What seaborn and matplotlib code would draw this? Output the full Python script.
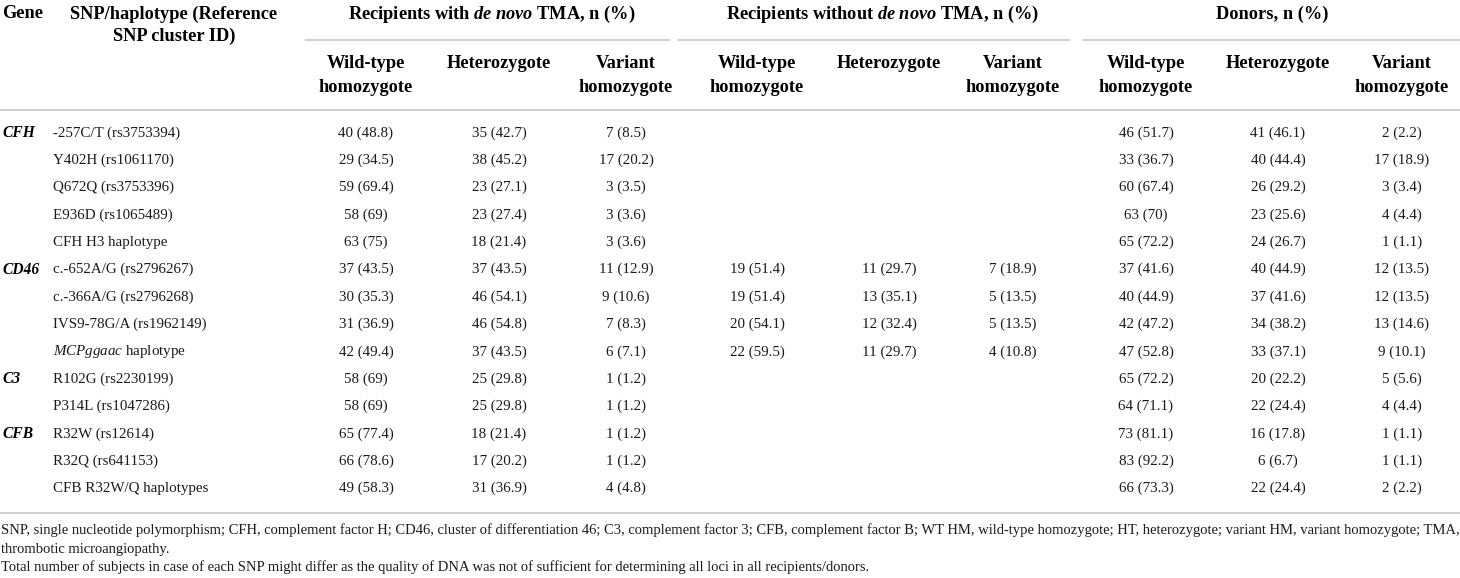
import matplotlib
matplotlib.use("Agg")
import matplotlib.pyplot as plt
import seaborn as sns

sns.set_theme(style="white")
plt.rcParams['font.family'] = ['Liberation Serif', 'DejaVu Serif']
plt.rcParams['mathtext.fontset'] = 'custom'
plt.rcParams['mathtext.rm'] = 'Liberation Serif'
plt.rcParams['mathtext.it'] = 'Liberation Serif:italic'
plt.rcParams['mathtext.bf'] = 'Liberation Serif:bold'
plt.rcParams['mathtext.bfit'] = 'Liberation Serif:bold:italic'

# ---------------- data ----------------
genes = ["CFH", "", "", "", "", "CD46", "", "", "", "C3", "", "CFB", "", ""]
snps = ["-257C/T (rs3753394)", "Y402H (rs1061170)", "Q672Q (rs3753396)",
        "E936D (rs1065489)", "CFH H3 haplotype", "c.-652A/G (rs2796267)",
        "c.-366A/G (rs2796268)", "IVS9-78G/A (rs1962149)",
        r"$\mathit{MCPggaac}$ haplotype", "R102G (rs2230199)",
        "P314L (rs1047286)", "R32W (rs12614)", "R32Q (rs641153)",
        "CFB R32W/Q haplotypes"]

with_wt = ["40 (48.8)", "29 (34.5)", "59 (69.4)", "58 (69)", "63 (75)",
           "37 (43.5)", "30 (35.3)", "31 (36.9)", "42 (49.4)", "58 (69)",
           "58 (69)", "65 (77.4)", "66 (78.6)", "49 (58.3)"]
with_ht = ["35 (42.7)", "38 (45.2)", "23 (27.1)", "23 (27.4)", "18 (21.4)",
           "37 (43.5)", "46 (54.1)", "46 (54.8)", "37 (43.5)", "25 (29.8)",
           "25 (29.8)", "18 (21.4)", "17 (20.2)", "31 (36.9)"]
with_var = ["7 (8.5)", "17 (20.2)", "3 (3.5)", "3 (3.6)", "3 (3.6)",
            "11 (12.9)", "9 (10.6)", "7 (8.3)", "6 (7.1)", "1 (1.2)",
            "1 (1.2)", "1 (1.2)", "1 (1.2)", "4 (4.8)"]

without_wt = ["", "", "", "", "", "19 (51.4)", "19 (51.4)", "20 (54.1)",
              "22 (59.5)", "", "", "", "", ""]
without_ht = ["", "", "", "", "", "11 (29.7)", "13 (35.1)", "12 (32.4)",
              "11 (29.7)", "", "", "", "", ""]
without_var = ["", "", "", "", "", "7 (18.9)", "5 (13.5)", "5 (13.5)",
               "4 (10.8)", "", "", "", "", ""]

donor_wt = ["46 (51.7)", "33 (36.7)", "60 (67.4)", "63 (70)", "65 (72.2)",
            "37 (41.6)", "40 (44.9)", "42 (47.2)", "47 (52.8)", "65 (72.2)",
            "64 (71.1)", "73 (81.1)", "83 (92.2)", "66 (73.3)"]
donor_ht = ["41 (46.1)", "40 (44.4)", "26 (29.2)", "23 (25.6)", "24 (26.7)",
            "40 (44.9)", "37 (41.6)", "34 (38.2)", "33 (37.1)", "20 (22.2)",
            "22 (24.4)", "16 (17.8)", "6 (6.7)", "22 (24.4)"]
donor_var = ["2 (2.2)", "17 (18.9)", "3 (3.4)", "4 (4.4)", "1 (1.1)",
             "12 (13.5)", "12 (13.5)", "13 (14.6)", "9 (10.1)", "5 (5.6)",
             "4 (4.4)", "1 (1.1)", "1 (1.1)", "2 (2.2)"]

group_titles = [r"Recipients with $\mathbfit{de\ novo}$ TMA, n (%)",
                r"Recipients without $\mathbfit{de\ novo}$ TMA, n (%)",
                "Donors, n (%)"]
sub_titles = [("Wild-type", "homozygote"), ("Heterozygote", ""), ("Variant", "homozygote")]

footnotes = [
    "SNP, single nucleotide polymorphism; CFH, complement factor H; CD46, cluster of differentiation 46; C3, complement factor 3; CFB, complement factor B; WT HM, wild-type homozygote; HT, heterozygote; variant HM, variant homozygote; TMA,",
    "thrombotic microangiopathy.",
    "Total number of subjects in case of each SNP might differ as the quality of DNA was not of sufficient for determining all loci in all recipients/donors.",
]

# ---------------- layout ----------------
W, H = 1460, 578
fig = plt.figure(figsize=(W / 100, H / 100), dpi=100)
ax = fig.add_axes([0, 0, 1, 1])
ax.set_xlim(0, W)
ax.set_ylim(H, 0)
ax.axis("off")

line_col = "#cccccc"
txt_col = "#1a1a1a"
hs = 13.2
ds = 10.8

# column centres
col_x = [366, 499, 626, 757, 889, 1013, 1146, 1278, 1402]
group_cx = [492, 882, 1272]
group_span = [(305, 670), (678, 1070), (1083, 1460)]

# header
ax.text(2, 14, "Gene", ha="left", va="center", fontsize=hs, fontweight="bold", color="black")
ax.text(174, 14, "SNP/haplotype (Reference", ha="center", va="center", fontsize=hs, fontweight="bold", color="black")
ax.text(174, 36, "SNP cluster ID)", ha="center", va="center", fontsize=hs, fontweight="bold", color="black")
for cx, t, (x0, x1) in zip(group_cx, group_titles, group_span):
    ax.text(cx, 14, t, ha="center", va="center", fontsize=hs, fontweight="bold", color="black")
    ax.plot([x0, x1], [40, 40], color=line_col, lw=1.3, solid_capstyle="butt")
for i, cx in enumerate(col_x):
    l1, l2 = sub_titles[i % 3]
    ax.text(cx, 64, l1, ha="center", va="center", fontsize=hs, fontweight="bold", color="black")
    if l2:
        ax.text(cx, 87, l2, ha="center", va="center", fontsize=hs, fontweight="bold", color="black")
ax.plot([0, W], [110, 110], color=line_col, lw=1.3)
ax.plot([0, W], [513, 513], color=line_col, lw=1.3)

# body
row_y0, row_dy = 133, 27.35
columns = [with_wt, with_ht, with_var, without_wt, without_ht, without_var,
           donor_wt, donor_ht, donor_var]
for r in range(len(snps)):
    y = row_y0 + r * row_dy
    if genes[r]:
        ax.text(2, y, genes[r], ha="left", va="center", fontsize=ds + 0.4,
                fontweight="bold", fontstyle="italic", color="black")
    ax.text(53, y, snps[r], ha="left", va="center", fontsize=ds, color=txt_col)
    for cx, col in zip(col_x, columns):
        if col[r]:
            ax.text(cx, y, col[r], ha="center", va="center", fontsize=ds, color=txt_col)

# footnotes
for y, t in zip([530, 549, 567], footnotes):
    ax.text(1, y, t, ha="left", va="center", fontsize=10.5, color=txt_col)

fig.savefig("out.png", dpi=100, facecolor="white")
